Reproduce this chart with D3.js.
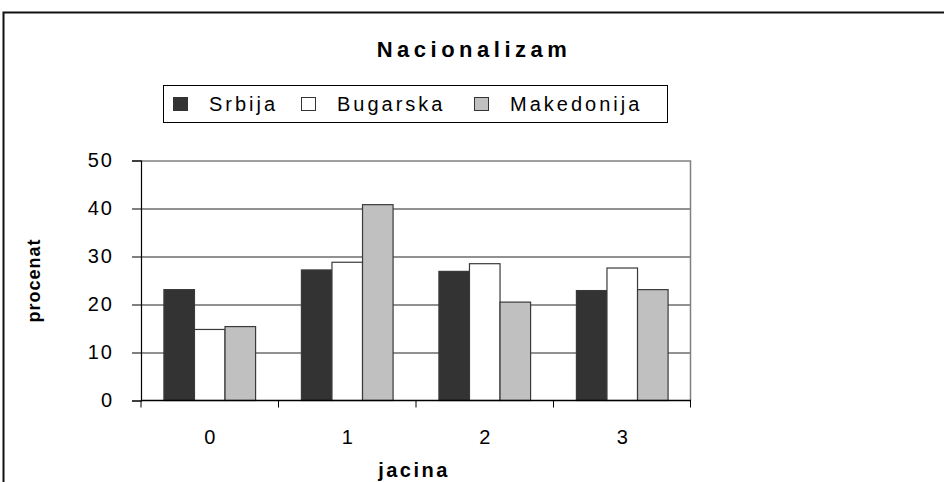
<!DOCTYPE html>
<html>
<head>
<meta charset="utf-8">
<script src="https://cdn.jsdelivr.net/npm/d3@7"></script>
<style>
  body { margin: 0; background: #fff; }
  svg text { font-family: "Liberation Sans", Arial, sans-serif; fill: #000; }
</style>
</head>
<body>
<div id="chart"></div>
<script>
const categories = ["0", "1", "2", "3"];
const seriesNames = ["Srbija", "Bugarska", "Makedonija"];
const srbija = [23.1, 27.2, 26.9, 22.9];
const bugarska = [14.8, 28.8, 28.5, 27.6];
const makedonija = [15.4, 40.8, 20.5, 23.1];
const yTicks = [0, 10, 20, 30, 40, 50];
const colors = ["#333333", "#ffffff", "#c0c0c0"];

const width = 944;
const height = 482;
const margin = { top: 160.5, right: 253, bottom: 81.5, left: 141 };
const plotW = width - margin.left - margin.right;
const plotH = height - margin.top - margin.bottom;

const values = [srbija, bugarska, makedonija];
const rows = categories.map((c, i) => ({
  cat: c,
  vals: seriesNames.map((s, j) => ({ key: s, value: values[j][i], color: colors[j] }))
}));

const svg = d3.select("#chart")
  .append("svg")
  .attr("width", width)
  .attr("height", height);

// outer chart frame
svg.append("rect")
  .attr("x", 3.5)
  .attr("y", 12.5)
  .attr("width", width + 20)
  .attr("height", height + 20)
  .attr("fill", "none")
  .attr("stroke", "#111")
  .attr("stroke-width", 2);

svg.append("text")
  .attr("x", 474)
  .attr("y", 57)
  .attr("text-anchor", "middle")
  .style("font-size", "22px")
  .style("font-weight", "bold")
  .style("letter-spacing", "4.5px")
  .text("Nacionalizam");

const g = svg.append("g")
  .attr("transform", `translate(${margin.left}, ${margin.top})`);

const x0 = d3.scaleBand()
  .domain(categories)
  .range([0, plotW])
  .paddingInner(1 / 3)
  .paddingOuter(1 / 6);

const x1 = d3.scaleBand()
  .domain(seriesNames)
  .range([0, x0.bandwidth()]);

const y = d3.scaleLinear()
  .domain([0, 50])
  .range([plotH, 0]);

// gridlines
g.selectAll(".grid")
  .data(yTicks.filter(d => d > 0 && d < 50))
  .join("line")
  .attr("class", "grid")
  .attr("x1", 0)
  .attr("x2", plotW)
  .attr("y1", d => Math.round(y(d)) + 0.5)
  .attr("y2", d => Math.round(y(d)) + 0.5)
  .attr("stroke", "#222")
  .attr("stroke-width", 1);

// plot frame top and right (grey)
g.append("path")
  .attr("d", `M0,${Math.round(y(50)) + 0.5}H${plotW - 0.5}V${plotH}`)
  .attr("fill", "none")
  .attr("stroke", "#808080")
  .attr("stroke-width", 1.5);

// bars
const groups = g.selectAll(".grp")
  .data(rows)
  .join("g")
  .attr("class", "grp")
  .attr("transform", d => `translate(${x0(d.cat)},0)`);

groups.selectAll("rect")
  .data(d => d.vals)
  .join("rect")
  .attr("x", d => x1(d.key))
  .attr("y", d => y(d.value))
  .attr("width", x1.bandwidth())
  .attr("height", d => plotH - y(d.value))
  .attr("fill", d => d.color)
  .attr("stroke", "#3a3a3a")
  .attr("stroke-width", 1.2);

// y axis
const yAxis = d3.axisLeft(y)
  .tickValues(yTicks)
  .tickSize(9)
  .tickPadding(18);

g.append("g")
  .attr("class", "y axis")
  .call(yAxis)
  .call(a => a.select(".domain").attr("stroke", "#000").attr("stroke-width", 1.2))
  .call(a => a.selectAll(".tick line").attr("stroke", "#000"))
  .call(a => a.selectAll("text")
    .style("font-size", "20px")
    .style("letter-spacing", "2px")
    .attr("font-family", null));

// x axis: separators between groups, labels in group centers
const xAxis = d3.axisBottom(x0)
  .tickSize(0)
  .tickPadding(29);

g.append("g")
  .attr("class", "x axis")
  .attr("transform", `translate(0, ${plotH})`)
  .call(xAxis)
  .call(a => a.select(".domain").remove())
  .call(a => a.selectAll("text")
    .style("font-size", "20px")
    .attr("font-family", null));

g.append("line")
  .attr("x1", 0)
  .attr("x2", plotW)
  .attr("y1", plotH)
  .attr("y2", plotH)
  .attr("stroke", "#000")
  .attr("stroke-width", 1.5);

g.selectAll(".sep")
  .data(d3.range(categories.length + 1))
  .join("line")
  .attr("class", "sep")
  .attr("x1", i => Math.min(i * x0.step(), plotW - 0.5))
  .attr("x2", i => Math.min(i * x0.step(), plotW - 0.5))
  .attr("y1", plotH)
  .attr("y2", plotH + 7)
  .attr("stroke", "#000");

// axis titles
svg.append("text")
  .attr("x", margin.left + plotW / 2 - 2)
  .attr("y", 477)
  .attr("text-anchor", "middle")
  .style("font-size", "20px")
  .style("font-weight", "bold")
  .style("letter-spacing", "2.5px")
  .text("jacina");

svg.append("text")
  .attr("transform", `translate(40, ${margin.top + plotH / 2}) rotate(-90)`)
  .attr("text-anchor", "middle")
  .style("font-size", "18px")
  .style("font-weight", "bold")
  .style("letter-spacing", "1px")
  .text("procenat");

// legend
const legend = svg.append("g")
  .attr("transform", "translate(163, 85)");

legend.append("rect")
  .attr("x", 0.5)
  .attr("y", 0.5)
  .attr("width", 504)
  .attr("height", 37)
  .attr("fill", "#fff")
  .attr("stroke", "#000");

const legendX = d3.scaleOrdinal()
  .domain(seriesNames)
  .range([10, 138, 311]);

const items = legend.selectAll(".item")
  .data(seriesNames.map((s, j) => ({ key: s, color: colors[j] })))
  .join("g")
  .attr("class", "item")
  .attr("transform", d => `translate(${legendX(d.key)}, 0)`);

items.append("rect")
  .attr("x", 0.5)
  .attr("y", 12.5)
  .attr("width", 14)
  .attr("height", 13)
  .attr("fill", d => d.color)
  .attr("stroke", "#333");

items.append("text")
  .attr("x", 36)
  .attr("y", 26)
  .style("font-size", "20px")
  .style("letter-spacing", "3px")
  .text(d => d.key);
</script>
</body>
</html>
